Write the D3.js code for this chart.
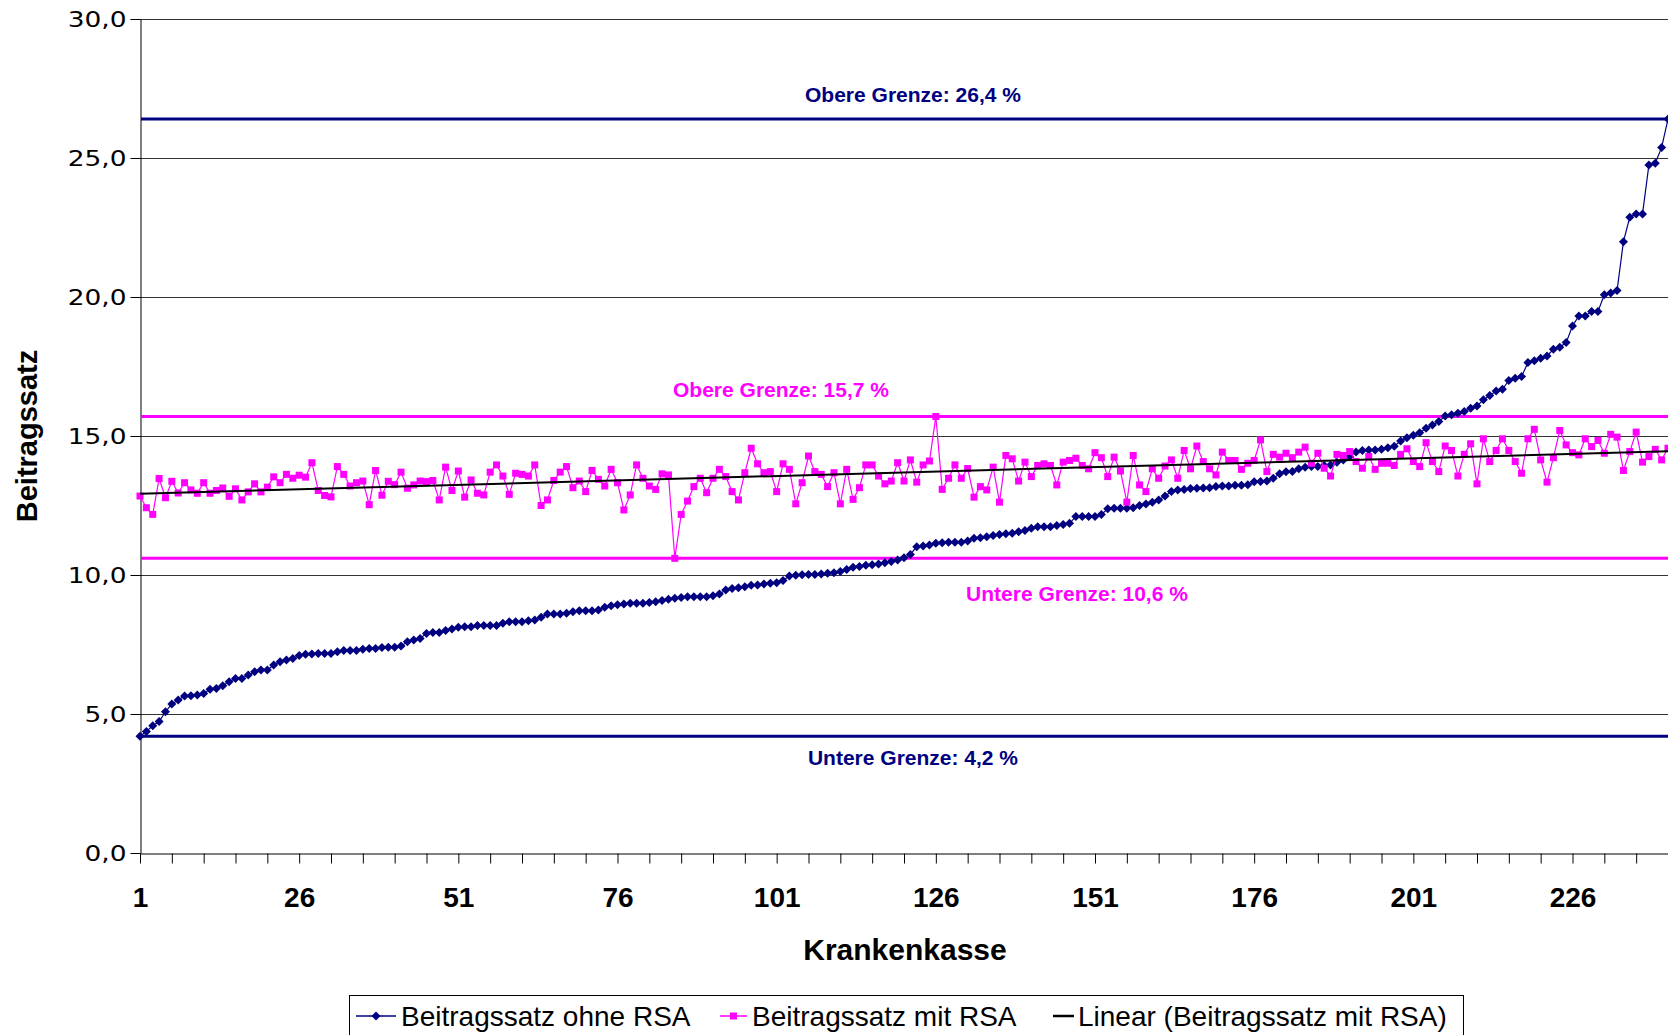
<!DOCTYPE html>
<html>
<head>
<meta charset="utf-8">
<script src="https://cdn.jsdelivr.net/npm/d3@7"></script>
<style>
  body { margin: 0; background: #fff; }
  svg { display: block; }
</style>
</head>
<body>
<svg id="chart" width="1668" height="1035"></svg>
<script>
// Beitragssatz ohne RSA, sorted ascending, one value per Krankenkasse (1..241)
const ohneRSA = [
  4.20, 4.37, 4.58, 4.73, 5.08, 5.36, 5.50, 5.65, 5.66, 5.68,
  5.74, 5.89, 5.92, 6.02, 6.16, 6.28, 6.28, 6.40, 6.52, 6.58,
  6.58, 6.76, 6.88, 6.94, 7.00, 7.10, 7.15, 7.16, 7.18, 7.18,
  7.18, 7.24, 7.28, 7.28, 7.28, 7.33, 7.36, 7.36, 7.39, 7.40,
  7.40, 7.45, 7.60, 7.66, 7.72, 7.90, 7.93, 7.93, 8.00, 8.06,
  8.12, 8.14, 8.14, 8.18, 8.18, 8.18, 8.18, 8.26, 8.32, 8.32,
  8.32, 8.35, 8.38, 8.48, 8.60, 8.60, 8.60, 8.62, 8.68, 8.71,
  8.71, 8.71, 8.74, 8.84, 8.89, 8.93, 8.96, 8.98, 8.98, 8.98,
  9.01, 9.04, 9.08, 9.13, 9.16, 9.19, 9.22, 9.22, 9.22, 9.22,
  9.25, 9.32, 9.46, 9.51, 9.54, 9.58, 9.63, 9.64, 9.68, 9.70,
  9.72, 9.80, 9.96, 9.99, 10.01, 10.02, 10.02, 10.04, 10.06, 10.08,
  10.13, 10.20, 10.28, 10.31, 10.35, 10.37, 10.40, 10.44, 10.49, 10.54,
  10.62, 10.74, 11.02, 11.04, 11.08, 11.14, 11.16, 11.18, 11.18, 11.18,
  11.22, 11.32, 11.34, 11.38, 11.42, 11.46, 11.48, 11.50, 11.56, 11.60,
  11.68, 11.74, 11.74, 11.74, 11.78, 11.82, 11.86, 12.10, 12.10, 12.10,
  12.10, 12.18, 12.38, 12.40, 12.40, 12.40, 12.42, 12.50, 12.55, 12.62,
  12.70, 12.84, 13.00, 13.06, 13.08, 13.11, 13.12, 13.13, 13.14, 13.18,
  13.20, 13.20, 13.23, 13.23, 13.25, 13.35, 13.36, 13.38, 13.48, 13.64,
  13.71, 13.72, 13.82, 13.88, 13.90, 13.90, 13.94, 13.96, 14.06, 14.14,
  14.26, 14.42, 14.48, 14.50, 14.50, 14.52, 14.58, 14.63, 14.82, 14.94,
  15.03, 15.12, 15.28, 15.40, 15.52, 15.72, 15.76, 15.82, 15.88, 16.00,
  16.08, 16.30, 16.46, 16.62, 16.68, 17.00, 17.08, 17.14, 17.64, 17.71,
  17.80, 17.88, 18.12, 18.19, 18.36, 18.96, 19.32, 19.32, 19.48, 19.48,
  20.08, 20.14, 20.23, 21.99, 22.87, 22.99, 22.99, 24.75, 24.81, 25.38,
  26.40
];

// Beitragssatz mit RSA, same order of Krankenkassen
const mitRSA = [
  12.84, 12.42, 12.18, 13.47, 12.78, 13.37, 12.95, 13.32, 13.06, 12.94,
  13.32, 12.94, 13.04, 13.13, 12.83, 13.10, 12.70, 12.99, 13.28, 12.99,
  13.16, 13.53, 13.32, 13.62, 13.48, 13.59, 13.52, 14.04, 13.04, 12.86,
  12.81, 13.90, 13.62, 13.20, 13.32, 13.38, 12.53, 13.76, 12.87, 13.37,
  13.25, 13.70, 13.12, 13.24, 13.38, 13.36, 13.40, 12.70, 13.88, 13.04,
  13.74, 12.80, 13.42, 12.94, 12.88, 13.70, 13.96, 13.56, 12.90, 13.66,
  13.62, 13.56, 13.96, 12.50, 12.70, 13.40, 13.70, 13.90, 13.14, 13.38,
  13.00, 13.76, 13.44, 13.20, 13.80, 13.32, 12.34, 12.88, 13.96, 13.48,
  13.20, 13.08, 13.64, 13.60, 10.60, 12.18, 12.66, 13.18, 13.48, 12.96,
  13.48, 13.80, 13.54, 13.00, 12.70, 13.68, 14.56, 14.00, 13.68, 13.72,
  13.00, 14.00, 13.80, 12.56, 13.32, 14.28, 13.72, 13.62, 13.18, 13.68,
  12.56, 13.80, 12.72, 13.14, 13.96, 13.96, 13.56, 13.28, 13.38, 14.04,
  13.38, 14.14, 13.34, 13.96, 14.10, 15.70, 13.08, 13.48, 13.96, 13.48,
  13.83, 12.80, 13.18, 13.06, 13.88, 12.62, 14.30, 14.18, 13.38, 14.06,
  13.54, 13.94, 14.00, 13.94, 13.24, 14.06, 14.12, 14.20, 13.94, 13.82,
  14.40, 14.22, 13.54, 14.24, 13.74, 12.62, 14.30, 13.24, 13.00, 13.82,
  13.48, 13.92, 14.14, 13.48, 14.48, 13.82, 14.64, 14.08, 13.82, 13.60,
  14.42, 14.12, 14.12, 13.80, 14.02, 14.12, 14.86, 13.72, 14.34, 14.24,
  14.38, 14.22, 14.42, 14.60, 14.02, 14.38, 13.84, 13.56, 14.34, 14.30,
  14.44, 14.08, 13.84, 14.26, 13.80, 14.02, 14.02, 13.94, 14.34, 14.54,
  14.08, 13.90, 14.76, 14.08, 13.72, 14.64, 14.48, 13.56, 14.34, 14.72,
  13.28, 14.90, 14.08, 14.48, 14.90, 14.48, 14.08, 13.66, 14.90, 15.24,
  14.14, 13.34, 14.22, 15.20, 14.68, 14.40, 14.32, 14.90, 14.62, 14.84,
  14.38, 15.06, 14.96, 13.76, 14.44, 15.14, 14.06, 14.26, 14.52, 14.14,
  14.56
];

// Grenzen (horizontal reference lines)
const grenzenWerte = [26.4, 15.7, 10.6, 4.2];
const grenzenText = ["Obere Grenze: 26,4 %", "Obere Grenze: 15,7 %", "Untere Grenze: 10,6 %", "Untere Grenze: 4,2 %"];
const grenzenSerie = ["ohne", "mit", "mit", "ohne"];

const yTicks = [0, 5, 10, 15, 20, 25, 30];
const xTickLabels = [1, 26, 51, 76, 101, 126, 151, 176, 201, 226];
const legendLabels = ["Beitragssatz ohne RSA", "Beitragssatz mit RSA", "Linear (Beitragssatz mit RSA)"];

const navy = "#000080";
const magenta = "#ff00ff";
const fontFamily = "'Liberation Sans', Arial, sans-serif";

// plot area in pixels (chart is cut off at the right edge)
const plotLeft = 140, plotTop = 19, plotBottom = 853, plotRight = 1668;

// label centres for the Grenzen texts
const grenzenLabelPos = [[913, 95], [781, 390], [1077, 594], [913, 758]];

const svg = d3.select("#chart");

const x = d3.scaleLinear().domain([1, ohneRSA.length]).range([plotLeft, plotRight]);
const y = d3.scaleLinear().domain([0, 30]).range([plotBottom, plotTop]);

// horizontal grid lines
svg.append("g")
  .selectAll("line")
  .data(yTicks.filter(d => d > 0))
  .join("line")
  .attr("x1", plotLeft).attr("x2", plotRight)
  .attr("y1", d => Math.round(y(d)) + 0.5).attr("y2", d => Math.round(y(d)) + 0.5)
  .attr("stroke", "#333")
  .attr("stroke-width", 1);

// y axis
const yAxis = svg.append("g")
  .attr("transform", "translate(" + (plotLeft + 0.5) + ",0)")
  .call(d3.axisLeft(y)
    .tickValues(yTicks)
    .tickSize(10)
    .tickSizeOuter(0)
    .tickFormat(d => d3.format(".1f")(d).replace(".", ",")));
yAxis.selectAll("path, line").attr("stroke", "#000");
yAxis.selectAll(".tick text")
  .attr("x", 0)
  .attr("dy", "0.36em")
  .attr("transform", "translate(-14,0) scale(1.2,1)")
  .attr("font-family", "'DejaVu Sans', Verdana, sans-serif")
  .attr("font-size", 22)
  .attr("fill", "#000");

// x axis: ticks every 5 Krankenkassen, labels every 25
const xAxis = svg.append("g")
  .attr("transform", "translate(0," + (plotBottom + 0.5) + ")")
  .call(d3.axisBottom(x)
    .tickValues(d3.range(1, ohneRSA.length + 1, 5))
    .tickSize(10)
    .tickSizeOuter(0)
    .tickPadding(24)
    .tickFormat(d => xTickLabels.includes(d) ? d : ""));
xAxis.selectAll("path, line").attr("stroke", "#000");
xAxis.selectAll(".tick text")
  .attr("font-family", fontFamily)
  .attr("font-size", 28)
  .attr("font-weight", "bold")
  .attr("fill", "#000");

// axis titles
svg.append("text")
  .attr("transform", "translate(37,436) rotate(-90)")
  .attr("text-anchor", "middle")
  .attr("font-family", fontFamily)
  .attr("font-size", 29)
  .attr("font-weight", "bold")
  .text("Beitragssatz");

svg.append("text")
  .attr("x", 905).attr("y", 960)
  .attr("text-anchor", "middle")
  .attr("font-family", fontFamily)
  .attr("font-size", 30)
  .attr("font-weight", "bold")
  .text("Krankenkasse");

// Grenzen lines + labels
svg.append("g")
  .selectAll("line")
  .data(grenzenWerte)
  .join("line")
  .attr("x1", plotLeft + 1).attr("x2", plotRight)
  .attr("y1", d => y(d)).attr("y2", d => y(d))
  .attr("stroke", (d, i) => grenzenSerie[i] === "ohne" ? navy : magenta)
  .attr("stroke-width", 3);

svg.append("g")
  .selectAll("text")
  .data(grenzenText)
  .join("text")
  .attr("x", (d, i) => grenzenLabelPos[i][0])
  .attr("y", (d, i) => grenzenLabelPos[i][1])
  .attr("dy", "0.35em")
  .attr("text-anchor", "middle")
  .attr("font-family", fontFamily)
  .attr("font-size", 21)
  .attr("font-weight", "bold")
  .attr("fill", (d, i) => grenzenSerie[i] === "ohne" ? navy : magenta)
  .text(d => d);

const line = d3.line()
  .x((d, i) => x(i + 1))
  .y(d => y(d));

// Beitragssatz ohne RSA
svg.append("path")
  .datum(ohneRSA)
  .attr("d", line)
  .attr("fill", "none")
  .attr("stroke", navy)
  .attr("stroke-width", 1.2);

const diamond = "M0,-4.5L4.5,0L0,4.5L-4.5,0Z";
svg.append("g")
  .selectAll("path")
  .data(ohneRSA)
  .join("path")
  .attr("transform", (d, i) => "translate(" + x(i + 1) + "," + y(d) + ")")
  .attr("d", diamond)
  .attr("fill", navy);

// Beitragssatz mit RSA
svg.append("path")
  .datum(mitRSA)
  .attr("d", line)
  .attr("fill", "none")
  .attr("stroke", magenta)
  .attr("stroke-width", 1.2);

svg.append("g")
  .selectAll("rect")
  .data(mitRSA)
  .join("rect")
  .attr("x", (d, i) => x(i + 1) - 3.5)
  .attr("y", d => y(d) - 3.5)
  .attr("width", 7)
  .attr("height", 7)
  .attr("fill", magenta);

// linear trend of mitRSA (least squares, like Excel's trendline)
const xs = mitRSA.map((d, i) => i + 1);
const xMean = d3.mean(xs), yMean = d3.mean(mitRSA);
const slope = d3.sum(xs, (xi, i) => (xi - xMean) * (mitRSA[i] - yMean)) / d3.sum(xs, xi => (xi - xMean) ** 2);
const intercept = yMean - slope * xMean;

svg.append("line")
  .attr("x1", x(1)).attr("y1", y(intercept + slope))
  .attr("x2", x(mitRSA.length)).attr("y2", y(intercept + slope * mitRSA.length))
  .attr("stroke", "#000")
  .attr("stroke-width", 2);

// legend (bottom edge cut off like the original)
const legend = svg.append("g");
legend.append("rect")
  .attr("x", 349.5).attr("y", 995.5)
  .attr("width", 1114).attr("height", 60)
  .attr("fill", "#fff")
  .attr("stroke", "#000");

const legendY = 1016;
const legendItems = [
  { x1: 356, x2: 396, tx: 401, color: navy, marker: "diamond" },
  { x1: 720, x2: 747, tx: 752, color: magenta, marker: "square" },
  { x1: 1053, x2: 1074, tx: 1078, color: "#000", marker: null }
];
legendItems.forEach((it, i) => {
  legend.append("line")
    .attr("x1", it.x1).attr("x2", it.x2)
    .attr("y1", legendY).attr("y2", legendY)
    .attr("stroke", it.color)
    .attr("stroke-width", it.marker ? 1.5 : 2.5);
  let mx = (it.x1 + it.x2) / 2;
  if (it.marker === "diamond") {
    legend.append("path")
      .attr("transform", "translate(" + mx + "," + legendY + ")")
      .attr("d", diamond)
      .attr("fill", it.color);
  } else if (it.marker === "square") {
    legend.append("rect")
      .attr("x", mx - 3.5).attr("y", legendY - 3.5)
      .attr("width", 7).attr("height", 7)
      .attr("fill", it.color);
  }
  legend.append("text")
    .attr("x", it.tx).attr("y", legendY)
    .attr("dy", "0.36em")
    .attr("font-family", fontFamily)
    .attr("font-size", 28)
    .attr("fill", "#000")
    .text(legendLabels[i]);
});
</script>
</body>
</html>
